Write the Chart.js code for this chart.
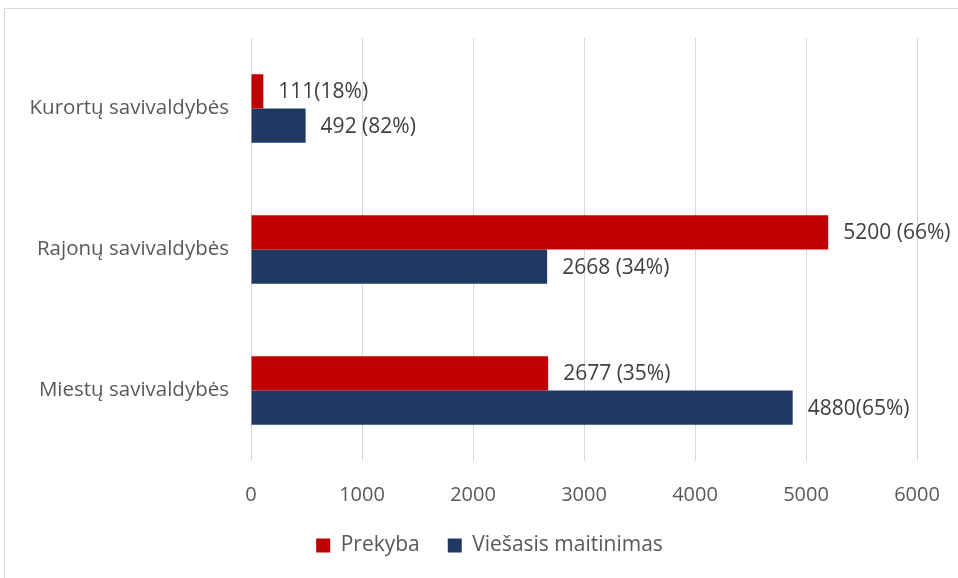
<!DOCTYPE html>
<html>
<head>
<meta charset="utf-8">
<script src="https://cdn.jsdelivr.net/npm/chart.js@4"></script>
<style>
  html, body { margin: 0; padding: 0; background: #fff; overflow: hidden; }
  #frame {
    position: absolute; left: 4px; top: 8px; width: 1000px; height: 600px;
    border: 1px solid #d9d9d9; box-sizing: border-box;
  }
  #chart { position: absolute; left: 0; top: 0; }
</style>
</head>
<body>
<div id="frame"></div>
<canvas id="chart" width="958" height="578"></canvas>
<script>
// Chart data
const categories = ['Kurortų savivaldybės', 'Rajonų savivaldybės', 'Miestų savivaldybės'];
const prekyba = [111, 5200, 2677];
const maitinimas = [492, 2668, 4880];
const prekybaLabels = ['111(18%)', '5200 (66%)', '2677 (35%)'];
const maitinimasLabels = ['492 (82%)', '2668 (34%)', '4880(65%)'];
const xTicks = [0, 1000, 2000, 3000, 4000, 5000, 6000];

const FONT = "'Open Sans', 'Noto Sans', sans-serif";
const TEXT_COLOR = '#595959';

/**
 * Draws the value labels to the right of each bar
 */
const valueLabels = {
    id: 'valueLabels',
    afterDatasetsDraw(chart) {
        const ctx = chart.ctx;
        ctx.save();
        ctx.font = '21px ' + FONT;
        ctx.fillStyle = '#404040';
        ctx.textBaseline = 'middle';
        ctx.textAlign = 'left';
        chart.data.datasets.forEach((ds, i) => {
            chart.getDatasetMeta(i).data.forEach((bar, j) => {
                ctx.fillText(ds.valueText[j], bar.x + 15, bar.y + 1);
            });
        });
        ctx.restore();
    }
};

/**
 * Legend sits a bit right of centre, like in the original
 */
const legendShift = {
    id: 'legendShift',
    afterLayout(chart) {
        if (chart.legend) {
            chart.legend.left += 31;
            chart.legend.right += 31;
        }
    }
};

new Chart(document.getElementById('chart'), {
    type: 'bar',
    data: {
        labels: categories,
        datasets: [
            {
                label: 'Prekyba',
                data: prekyba,
                valueText: prekybaLabels,
                backgroundColor: '#C00000'
            },
            {
                label: 'Viešasis maitinimas',
                data: maitinimas,
                valueText: maitinimasLabels,
                backgroundColor: '#1F3864'
            }
        ]
    },
    options: {
        indexAxis: 'y',
        responsive: false,
        animation: false,
        datasets: {
            bar: {
                barPercentage: 1,
                categoryPercentage: 0.486
            }
        },
        layout: {
            padding: { left: 0, right: 41, top: 38, bottom: 12 }
        },
        plugins: {
            legend: {
                position: 'bottom',
                labels: {
                    font: { family: FONT, size: 21 },
                    color: TEXT_COLOR,
                    boxWidth: 14,
                    boxHeight: 14,
                    padding: 28
                }
            },
            tooltip: { enabled: false }
        },
        scales: {
            x: {
                min: 0,
                max: 6000,
                afterBuildTicks: axis => {
                    axis.ticks = xTicks.map(v => ({ value: v }));
                },
                afterFit: axis => {
                    axis.height = 46;
                    axis.paddingRight = 0;
                    axis.paddingLeft = 0;
                },
                grid: {
                    color: '#d9d9d9',
                    lineWidth: 1,
                    drawTicks: false
                },
                border: { display: false },
                ticks: {
                    font: { family: FONT, size: 20 },
                    color: TEXT_COLOR,
                    padding: 22,
                    callback: v => String(v)
                }
            },
            y: {
                afterFit: axis => { axis.width = 251; },
                grid: { display: false, drawTicks: false },
                border: { display: false },
                ticks: {
                    font: { family: FONT, size: 20.5 },
                    color: TEXT_COLOR,
                    padding: 22
                }
            }
        }
    },
    plugins: [valueLabels, legendShift]
});
</script>
</body>
</html>
